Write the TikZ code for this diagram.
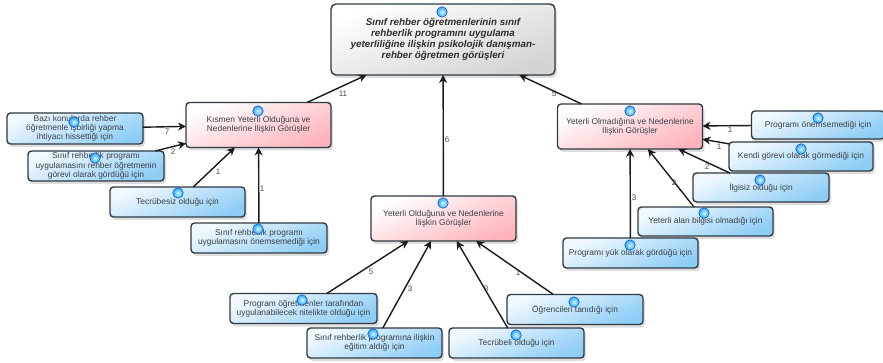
\documentclass[tikz,border=0pt]{standalone}
\usepackage{fontspec}
\setmainfont{Liberation Sans}
\usetikzlibrary{shadows,arrows.meta}
\definecolor{edgeink}{HTML}{1A1A1A}
\definecolor{bordink}{HTML}{2F3A42}
\definecolor{labink}{HTML}{4A4A4A}
\definecolor{txtink}{HTML}{3A4048}
\definecolor{leafstart}{HTML}{F2F9FE}
\definecolor{leafend}{HTML}{8ECDF6}
\definecolor{midend}{HTML}{FFB4BC}
\tikzset{
  x=1pt,y=-1pt,
  basebox/.style={draw=bordink,line width=1.4pt,rounded corners=3.5pt,align=center,outer sep=0pt,inner sep=0pt,
     text=txtink,font=\fontsize{8.4}{9.3}\selectfont,
     drop shadow={shadow xshift=2pt,shadow yshift=-3pt,opacity=.13,fill=black}},
  leafbox/.style={basebox,top color=leafstart,bottom color=leafend,shading angle=24,minimum width=135pt,minimum height=30pt},
  midbox/.style={basebox,top color=white,bottom color=midend,shading angle=24,minimum width=145pt,minimum height=45pt},
  topbox/.style={basebox,top color=white,bottom color=black!17,shading angle=20,minimum width=224pt,minimum height=71pt,
     font=\fontsize{9.8}{11}\selectfont\bfseries\itshape,text=black!82,rounded corners=5pt},
  link/.style={draw=edgeink,line width=1.4pt,-{Stealth[length=8pt,width=8pt]}},
  weight/.style={text=labink,font=\fontsize{8}{9}\selectfont,inner sep=0pt},
  orb/.style={circle,minimum size=10.5pt,inner sep=0pt,draw=blue!60!cyan!75!black,line width=.5pt,inner color=cyan!20!white,outer color=blue!45!cyan!85!white,fill opacity=.92},
}
\begin{document}
\begin{tikzpicture}
\useasboundingbox (0,0) rectangle (883,363);
% top
\node[topbox] (main) at (443,39.5) {Sınıf rehber öğretmenlerinin sınıf\\rehberlik programını uygulama\\yeterliliğine ilişkin psikolojik danışman-\\rehber öğretmen görüşleri};
% middle
\node[midbox] (kismen) at (258.5,125) {Kısmen Yeterli Olduğuna ve\\Nedenlerine İlişkin Görüşler};
\node[midbox] (yeterli) at (443.5,218.5) {Yeterli Olduğuna ve Nedenlerine\\İlişkin Görüşler};
\node[midbox] (olmadi) at (630,126.5) {Yeterli Olmadığına ve Nedenlerine\\İlişkin Görüşler};
% left leaves
\node[leafbox,minimum width=136pt,minimum height=31pt] (la) at (75,128.5) {Bazı konularda rehber\\öğretmenle işbirliği yapma\\ihtiyacı hissettiği için};
\node[leafbox,minimum width=136pt] (lb) at (96,166) {Sınıf rehberlik programı\\uygulamasını rehber öğretmenin\\görevi olarak gördüğü için};
\node[leafbox] (lc) at (177.5,202) {Tecrübesiz olduğu için};
\node[leafbox,minimum width=136pt] (ld) at (259,238) {Sınıf rehberlik programı\\uygulamasını önemsemediği için};
% bottom leaves
\node[leafbox,minimum width=147pt] (ba) at (303.5,308.5) {Program öğretmenler tarafından\\uygulanabilecek nitelikte olduğu için};
\node[leafbox] (bb) at (374.5,343) {Sınıf rehberlik programına ilişkin\\eğitim aldığı için};
\node[leafbox] (bc) at (516.5,343) {Tecrübeli olduğu için};
\node[leafbox,minimum width=136pt] (bd) at (575,309.5) {Öğrencileri tanıdığı için};
% right leaves
\node[leafbox,minimum width=133pt,minimum height=28pt] (ra) at (818,125) {Programı önemsemediği için};
\node[leafbox,minimum width=144pt,minimum height=29pt] (rb) at (801,156.5) {Kendi görevi olarak görmediği için};
\node[leafbox,minimum width=136pt,minimum height=29pt] (rc) at (761,187.5) {İlgisiz olduğu için};
\node[leafbox,minimum height=29pt] (rd) at (705.5,221.5) {Yeterli alan bilgisi olmadığı için};
\node[leafbox,minimum height=30pt] (re) at (630.5,253) {Programı yük olarak gördüğü için};
% connectors
\draw[link] (kismen) -- (main);
\draw[link] (yeterli) -- (main);
\draw[link] (olmadi) -- (main);
\draw[link] (la) -- (kismen);
\draw[link] (lb) -- (kismen);
\draw[link] (lc) -- (kismen);
\draw[link] (ld) -- (kismen);
\draw[link] (ba) -- (yeterli);
\draw[link] (bb) -- (yeterli);
\draw[link] (bc) -- (yeterli);
\draw[link] (bd) -- (yeterli);
\draw[link] (ra) -- (olmadi);
\draw[link] (rb) -- (olmadi);
\draw[link] (rc) -- (olmadi);
\draw[link] (rd) -- (olmadi);
\draw[link] (re) -- (olmadi);
% weights
\node[weight] (w1) at (343,94) {11};
\node[weight] (w2) at (447,140) {6};
\node[weight] (w3) at (554,94) {5};
\node[weight] (w4) at (167,132) {7};
\node[weight] (w5) at (173,152) {2};
\node[weight] (w6) at (218,172) {1};
\node[weight] (w7) at (262,189) {1};
\node[weight] (w8) at (371,272) {5};
\node[weight] (w9) at (410,289) {3};
\node[weight] (w10) at (486,289) {3};
\node[weight] (w11) at (518,273) {1};
\node[weight] (w12) at (730,130) {1};
\node[weight] (w13) at (719,147) {1};
\node[weight] (w14) at (707,167) {2};
\node[weight] (w15) at (674,183) {2};
\node[weight] (w16) at (634,198) {3};
% orbs
\foreach \n/\x/\y in {o1/442/12,o2/258/111,o3/443/203,o4/630/111,o5/74/122,o6/95/158,o7/178/193,o8/258/229,
  o9/302/300,o10/373/334,o11/516/335,o12/574/302,o13/818/118,o14/801/149,o15/760/180,o16/704/213,o17/630/245}
  \node[orb] (\n) at (\x,\y) {};
\end{tikzpicture}
\end{document}
